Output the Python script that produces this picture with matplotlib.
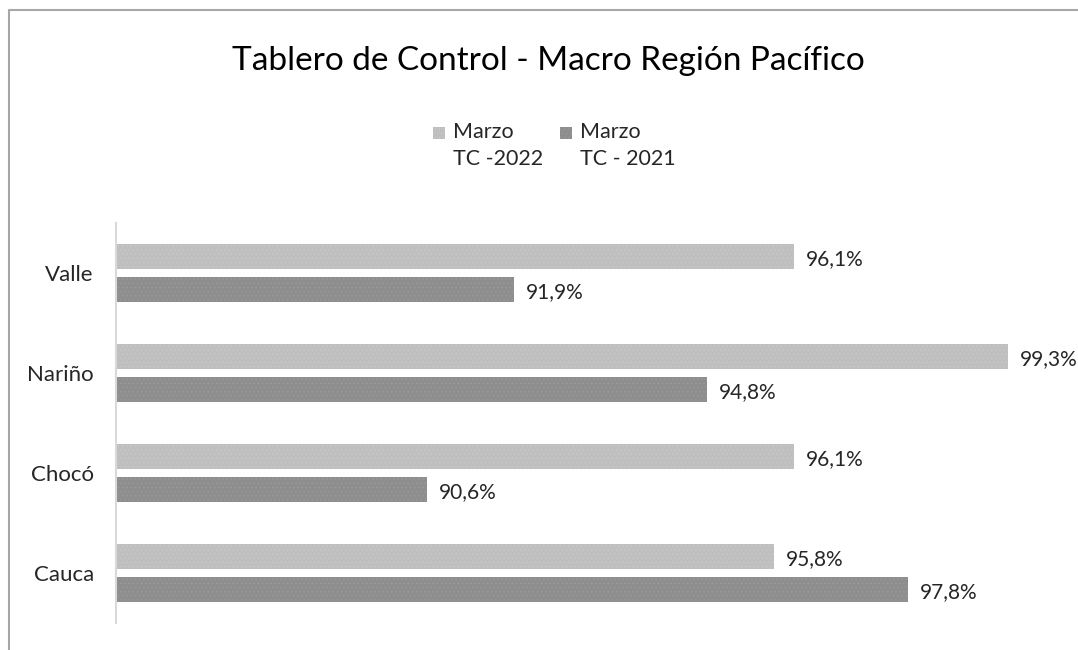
import matplotlib
matplotlib.use("Agg")
import matplotlib.pyplot as plt
from matplotlib.patches import Rectangle
from matplotlib.lines import Line2D
import numpy as np

plt.rcParams['font.family'] = ['Lato', 'DejaVu Sans']

categories = ["Valle", "Nariño", "Chocó", "Cauca"]
tc_2022 = [96.1, 99.3, 96.1, 95.8]
tc_2021 = [91.9, 94.8, 90.6, 97.8]
series_labels = ["Marzo\nTC -2022", "Marzo\nTC - 2021"]
colors = ["#BFBFBF", "#8E8E8E"]
hatch_colors = ["#C9C9C9", "#999999"]
title = "Tablero de Control - Macro Región Pacífico"

W, H = 1078, 650
fig = plt.figure(figsize=(W / 100, H / 100), dpi=100)
fig.patch.set_facecolor("white")

ax_left, ax_right = 116, 1055
ax_top, ax_bot = 223, 623
ax = fig.add_axes([ax_left / W, 1 - ax_bot / H, (ax_right - ax_left) / W, (ax_bot - ax_top) / H])

plt.rcParams['hatch.linewidth'] = 0.6
y = np.arange(len(categories))[::-1].astype(float)
off = 0.165
h = 0.255
b1 = ax.barh(y + off, tc_2022, height=h, color=colors[0], edgecolor=hatch_colors[0],
             linewidth=0, hatch='....', left=0)
b2 = ax.barh(y - off, tc_2021, height=h, color=colors[1], edgecolor=hatch_colors[1],
             linewidth=0, hatch='....', left=0)

for bars, vals in ((b1, tc_2022), (b2, tc_2021)):
    for rect, v in zip(bars, vals):
        ax.annotate(f"{v:.1f}%".replace('.', ','),
                    xy=(rect.get_width(), rect.get_y() + rect.get_height() / 2),
                    xytext=(8.5, -2), textcoords="offset points",
                    ha='left', va='center', fontsize=15, color="#262626",
                    annotation_clip=False)

ax.set_xlim(85.95, 100)
ax.set_ylim(-0.5, len(categories) - 0.5)
ax.set_yticks(y)
ax.set_yticklabels(categories, fontsize=16, color="#262626")
ax.tick_params(axis='y', length=0, pad=16)
ax.set_xticks([])
for s in ("top", "right", "bottom"):
    ax.spines[s].set_visible(False)
ax.spines["left"].set_color("#D9D9D9")
ax.spines["left"].set_linewidth(1.5)
ax.set_facecolor("none")

# title
fig.text(548 / W, 1 - 61 / H, title, ha='center', va='center', fontsize=24, color="#000000")

# legend (manual, marker aligned with first line)
leg_items = [(433, 453), (560, 580)]
for (mx, tx), lab, c, hc in zip(leg_items, series_labels, colors, hatch_colors):
    fig.patches.append(Rectangle((mx / W, 1 - 139 / H), 12 / W, 12 / H,
                                 transform=fig.transFigure, facecolor=c,
                                 edgecolor=hc, linewidth=0, hatch='....'))
    fig.text(tx / W, 1 - 122 / H, lab, ha='left', va='top', fontsize=15.5,
             color="#262626", linespacing=1.45)

# chart-area border (left and top edges visible)
fig.add_artist(Line2D([9 / W, 9 / W, 1.0], [0.0, 1 - 10 / H, 1 - 10 / H],
                      transform=fig.transFigure, color="#A6A6A6", linewidth=1.5))

fig.savefig("out.png", dpi=100)
